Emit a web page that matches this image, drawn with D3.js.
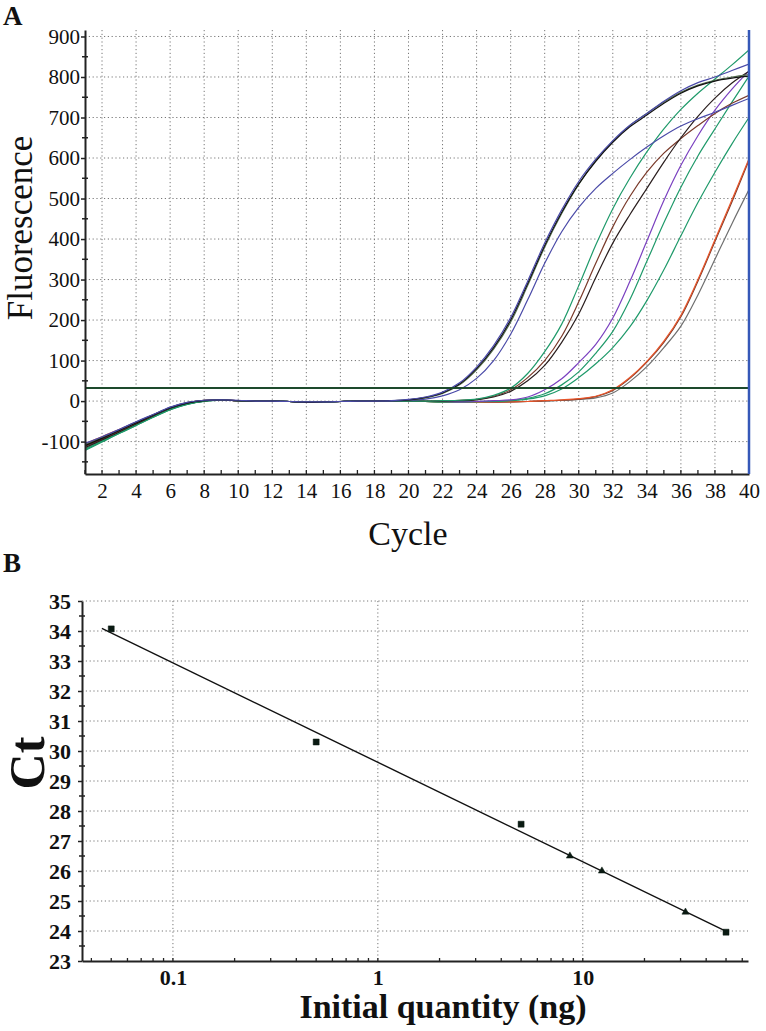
<!DOCTYPE html>
<html><head><meta charset="utf-8">
<script src="https://cdn.jsdelivr.net/npm/d3@7"></script>
<style>
body{margin:0;background:#fff}svg{display:block}
text{font-family:"Liberation Serif","Times New Roman",Times,serif}
</style>
</head><body><svg id="c" width="766" height="1031"></svg>
<script>
// ---------- Panel A data ----------
const cycles = d3.range(1, 41);
const g1Black   = [-110,-92,-73,-54,-35,-17,-5,1,3,1,0,0,-1,-3,-2,-1,0,0,1,3,9,20,42,80,132,200,290,384,466,536,592,639,677,706,735,760,778,790,797,802];
const g1Olive   = [-108,-90,-72,-53,-34,-16,-4,2,3,1,0,0,-1,-2,-2,-1,0,0,1,3,8,19,40,77,128,195,285,380,463,535,594,641,680,710,738,762,780,792,800,806];
const g1BlueUp  = [-104,-88,-70,-51,-33,-15,-3,2,3,2,0,0,-1,-2,-2,-1,0,0,1,4,10,22,45,84,137,206,296,390,472,542,597,643,681,710,740,766,786,800,816,832];
const g1BlueLow = [-106,-90,-71,-52,-34,-16,-4,2,3,1,0,0,-1,-2,-2,-1,0,0,0,2,5,13,28,56,100,165,250,340,418,478,525,562,596,627,655,679,697,713,730,747];
const g2Green   = [-120,-100,-80,-60,-40,-21,-8,0,2,1,0,0,-1,-2,-2,-1,0,0,0,0,0,1,2,5,14,32,68,122,190,285,385,475,550,615,672,720,760,795,830,867];
const g2Brown   = [-112,-94,-75,-56,-37,-19,-6,1,2,1,0,0,-1,-2,-2,-1,0,0,0,0,0,1,2,4,12,28,58,100,160,245,340,430,505,565,612,648,680,710,735,755];
const g2Black   = [-115,-96,-77,-57,-38,-20,-7,0,2,1,0,0,-1,-3,-2,-1,0,0,0,0,0,0,1,3,10,24,50,88,145,215,305,390,460,525,590,650,703,748,785,814];
const g3Purple  = [-110,-93,-74,-55,-36,-18,-6,1,2,1,0,0,-1,-2,-2,-1,0,0,0,0,-1,-1,-2,-1,1,3,10,28,55,95,140,205,295,395,495,582,655,718,770,815];
const g3GreenA  = [-118,-98,-78,-58,-39,-20,-7,0,2,1,0,0,-1,-2,-2,-1,0,0,0,0,-1,-2,-2,-1,0,2,7,18,40,72,118,172,250,345,440,528,605,672,738,802];
const g3GreenB  = [-122,-101,-80,-60,-40,-21,-8,-1,2,1,0,0,-1,-2,-2,-1,0,0,0,0,-1,-2,-2,-2,-1,1,5,13,30,58,92,132,183,248,324,408,490,565,635,700];
const g4Orange  = [-105,-88,-70,-52,-34,-16,-4,2,3,1,0,0,-1,-2,-2,-1,0,0,0,0,-1,-2,-3,-3,-2,-2,-1,1,3,6,12,28,58,98,148,212,300,398,497,598];
const g4Brown   = [-108,-91,-72,-53,-35,-17,-5,1,3,1,0,0,-1,-2,-2,-1,0,0,0,0,-1,-2,-3,-3,-2,-2,-1,1,2,5,11,26,56,96,145,208,296,394,492,595];
const g4Gray    = [-112,-94,-75,-55,-36,-18,-6,1,2,1,0,0,-1,-2,-2,-1,0,0,0,0,-1,-2,-3,-3,-3,-2,-1,0,2,4,8,20,48,85,132,185,262,350,438,522];

const curveSeries = [g4Gray, g4Brown, g4Orange, g3GreenB, g3GreenA, g3Purple, g2Brown, g2Black, g2Green, g1BlueLow, g1Olive, g1Black, g1BlueUp];
const curveColors = ["#6f6f6f","#7a3a2a","#e8552a","#1f9a6a","#1f9a6a","#7a40c0","#7a3a2a","#2a1e1e","#1f9a6a","#4a4aa8","#55704f","#111111","#4a4aa8"];
const thresholdValue = 32;
const fluorTicks = [-100,0,100,200,300,400,500,600,700,800,900];
const fluorMinor = [-150,-50,50,150,250,350,450,550,650,750,850];
const cycleTicks = d3.range(2, 41, 2);

// ---------- Panel B data ----------
const quantities = [0.05, 0.5, 5, 8.65, 12.4, 31.7, 50];
const ctValues   = [34.07, 30.3, 27.56, 26.5, 26.0, 24.63, 23.96];
const markerShapes = ["square","square","square","triangle","triangle","triangle","square"];
const fitRange = [0.045, 51];
const ctTicks = d3.range(23, 36);
const ctMinor = d3.range(23.5, 35, 1);
const quantityTicks = [0.1, 1, 10];
const quantityMinor = [0.04,0.05,0.06,0.07,0.08,0.09,0.2,0.3,0.4,0.5,0.6,0.7,0.8,0.9,2,3,4,5,6,7,8,9,20,30,40,50,60];

const svg = d3.select("#c");
svg.append("rect").attr("width",766).attr("height",1031).attr("fill","#fff");

// =================== PANEL A ===================
const xA = d3.scaleLinear().domain([1, 40]).range([85, 749]);
const yA = d3.scaleLinear().domain([-180, 916]).range([474, 30]);
const A = svg.append("g");

A.append("g").selectAll("line").data(cycleTicks.filter(d => d < 40)).join("line")
  .attr("x1", d => xA(d)).attr("x2", d => xA(d)).attr("y1", yA.range()[1]).attr("y2", yA.range()[0])
  .attr("stroke","#777").attr("stroke-width",1).attr("stroke-dasharray","1.2,2.6");
A.append("g").selectAll("line").data(fluorTicks).join("line")
  .attr("x1", xA.range()[0]).attr("x2", xA.range()[1]).attr("y1", d => yA(d)).attr("y2", d => yA(d))
  .attr("stroke","#777").attr("stroke-width",1).attr("stroke-dasharray","1.2,2.6");

A.append("clipPath").attr("id","clipA").append("rect")
  .attr("x", xA.range()[0]).attr("y", yA.range()[1])
  .attr("width", xA.range()[1]-xA.range()[0]).attr("height", yA.range()[0]-yA.range()[1]);

const lineA = d3.line().x((d,i) => xA(cycles[i])).y(d => yA(d)).curve(d3.curveCatmullRom.alpha(0.5));
A.append("g").attr("clip-path","url(#clipA)").selectAll("path").data(curveSeries).join("path")
  .attr("d", lineA).attr("fill","none")
  .attr("stroke",(d,i) => curveColors[i]).attr("stroke-width",1.2);

A.append("line").attr("x1", xA(1)).attr("x2", xA(40)).attr("y1", yA(thresholdValue)).attr("y2", yA(thresholdValue))
  .attr("stroke","#1d4a2c").attr("stroke-width",2);

const axYA = A.append("g").attr("transform",`translate(${xA(1)},0)`)
  .call(d3.axisLeft(yA).tickValues(fluorTicks).tickSizeInner(4).tickSizeOuter(0).tickPadding(1).tickFormat(d => String(d)));
axYA.attr("font-family", null);
axYA.selectAll("text").attr("font-size", 21).attr("fill","#111");
axYA.select(".domain").attr("stroke","#222").attr("stroke-width",2);
axYA.selectAll(".tick line").attr("stroke","#222").attr("stroke-width",1.5);
A.append("g").selectAll("line").data(fluorMinor).join("line")
  .attr("x1", xA(1)-3).attr("x2", xA(1)+3).attr("y1", d => yA(d)).attr("y2", d => yA(d))
  .attr("stroke","#222").attr("stroke-width",1.5);

const axXA = A.append("g").attr("transform",`translate(0,${yA(-180)})`)
  .call(d3.axisBottom(xA).tickValues(cycleTicks).tickSize(0).tickPadding(9).tickFormat(d => String(d)));
axXA.attr("font-family", null);
axXA.selectAll("text").attr("font-size", 21).attr("fill","#111");
axXA.select(".domain").attr("stroke","#222").attr("stroke-width",2);
A.append("g").selectAll("line").data(cycles).join("line")
  .attr("x1", d => xA(d)).attr("x2", d => xA(d)).attr("y1", yA(-180)-4).attr("y2", yA(-180))
  .attr("stroke","#222").attr("stroke-width",1.3);

A.append("line").attr("x1", xA(40)).attr("x2", xA(40)).attr("y1", yA.range()[1]).attr("y2", yA.range()[0])
  .attr("stroke","#3558b8").attr("stroke-width",2.5);

A.append("text").attr("x",408).attr("y",545).attr("text-anchor","middle")
  .attr("font-size",34).attr("fill","#111").text("Cycle");
A.append("text").attr("transform","translate(32,228) rotate(-90)").attr("text-anchor","middle")
  .attr("font-size",35).attr("fill","#111").text("Fluorescence");
A.append("text").attr("x",3).attr("y",25).attr("font-weight","bold")
  .attr("font-size",27).attr("fill","#111").text("A");

// =================== PANEL B ===================
const xB = d3.scaleLog().domain([0.036, 64]).range([82, 748]);
const yB = d3.scaleLinear().domain([23, 35]).range([961, 601]);
const B = svg.append("g");

B.append("g").selectAll("line").data(quantityTicks).join("line")
  .attr("x1", d => xB(d)).attr("x2", d => xB(d)).attr("y1", yB(35)).attr("y2", yB(23))
  .attr("stroke","#777").attr("stroke-width",1).attr("stroke-dasharray","1.2,2.6");
B.append("g").selectAll("line").data(ctTicks.filter(d => d > 23)).join("line")
  .attr("x1", xB.range()[0]).attr("x2", xB.range()[1]).attr("y1", d => yB(d)).attr("y2", d => yB(d))
  .attr("stroke","#777").attr("stroke-width",1).attr("stroke-dasharray","1.2,2.6");

const lx = quantities.map(Math.log10);
const mx = d3.mean(lx), my = d3.mean(ctValues);
const slope = d3.sum(lx, (v,i) => (v-mx)*(ctValues[i]-my)) / d3.sum(lx, v => (v-mx)*(v-mx));
const icpt = my - slope*mx;
B.append("path").datum(fitRange)
  .attr("d", d3.line().x(d => xB(d)).y(d => yB(icpt + slope*Math.log10(d))))
  .attr("stroke","#111").attr("stroke-width",1.4).attr("fill","none");

const pts = quantities.map((q,i) => ({q, ct: ctValues[i], shape: markerShapes[i]}));
B.append("g").selectAll("path").data(pts).join("path")
  .attr("transform", d => `translate(${xB(d.q)},${yB(d.ct)})`)
  .attr("d", d => d.shape === "square" ? d3.symbol(d3.symbolSquare, 36)() : d3.symbol(d3.symbolTriangle, 22)())
  .attr("fill","#0a1a12").attr("stroke","#0a1a12").attr("stroke-width",0.5);

const axYB = B.append("g").attr("transform",`translate(${xB.range()[0]},0)`)
  .call(d3.axisLeft(yB).tickValues(ctTicks).tickSizeInner(4).tickSizeOuter(0).tickPadding(7).tickFormat(d => String(d)));
axYB.attr("font-family", null);
axYB.selectAll("text").attr("font-weight","bold").attr("font-size", 22).attr("fill","#111");
axYB.select(".domain").attr("stroke","#222").attr("stroke-width",2);
axYB.selectAll(".tick line").attr("stroke","#222").attr("stroke-width",1.5);
B.append("g").selectAll("line").data(ctMinor).join("line")
  .attr("x1", xB.range()[0]-3).attr("x2", xB.range()[0]+3).attr("y1", d => yB(d)).attr("y2", d => yB(d))
  .attr("stroke","#222").attr("stroke-width",1.5);

const axXB = B.append("g").attr("transform",`translate(0,${yB(23)})`)
  .call(d3.axisBottom(xB).tickValues(quantityTicks).tickSize(0).tickPadding(8).tickFormat(d => String(d)));
axXB.attr("font-family", null);
axXB.selectAll("text").attr("font-weight","bold").attr("font-size", 22).attr("fill","#111");
axXB.select(".domain").attr("stroke","#222").attr("stroke-width",2);
B.append("g").selectAll("line").data(quantityMinor.concat(quantityTicks)).join("line")
  .attr("x1", d => xB(d)).attr("x2", d => xB(d)).attr("y1", yB(23)-3).attr("y2", yB(23)+1)
  .attr("stroke","#222").attr("stroke-width",1.3);

B.append("text").attr("x",443).attr("y",1018).attr("text-anchor","middle")
  .attr("font-weight","bold").attr("font-size",34).attr("fill","#111")
  .text("Initial quantity (ng)");
B.append("text").attr("transform","translate(44,763) rotate(-90)").attr("text-anchor","middle")
  .attr("font-weight","bold").attr("font-size",50).attr("fill","#111").text("Ct");
B.append("text").attr("x",3).attr("y",572).attr("font-weight","bold")
  .attr("font-size",27).attr("fill","#111").text("B");
</script></body></html>
